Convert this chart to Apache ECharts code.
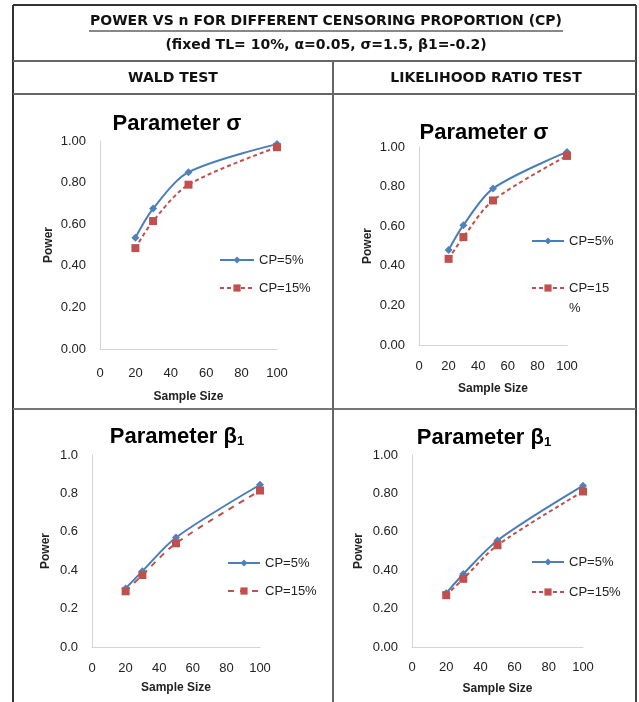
<!DOCTYPE html>
<html>
<head>
<meta charset="utf-8">
<script src="https://cdn.jsdelivr.net/npm/echarts@6/dist/echarts.min.js"></script>
<style>
  html, body { margin: 0; padding: 0; background: #fff; }
  #main { width: 639px; height: 702px; }
</style>
</head>
<body>
<div id="main"></div>
<script>
// data
var sampleSize = [20, 30, 50, 100];
var waldSigma5 = [0.535, 0.675, 0.85, 0.985];
var waldSigma15 = [0.485, 0.615, 0.79, 0.97];
var lrSigma5 = [0.48, 0.605, 0.79, 0.975];
var lrSigma15 = [0.435, 0.545, 0.73, 0.955];
var waldBeta5 = [0.305, 0.395, 0.57, 0.845];
var waldBeta15 = [0.29, 0.375, 0.54, 0.815];
var lrBeta5 = [0.28, 0.38, 0.555, 0.84];
var lrBeta15 = [0.27, 0.355, 0.53, 0.81];
var xTicks = [0, 20, 40, 60, 80, 100];
var yTicks = [0, 0.2, 0.4, 0.6, 0.8, 1.0];
var legendNames = ['CP=5%', 'CP=15%'];

var BLUE = '#4a7ebb';
var RED = '#c0504d';
var FONT = '"Liberation Sans", Arial, sans-serif';
var HEAD_FONT = '"DejaVu Sans", sans-serif';

// one panel per cell of the table
var panels = [
  { title: 'Parameter σ', tx: 177, ty: 125, grid: { left: 100, top: 141, width: 177, height: 208 },
    s5: waldSigma5, s15: waldSigma15, dec: 2, nameX: 45, nameY: 42, xm: 18, dash: [4, 3],
    leg: { left: 219, y5: 260, y15: 288, w: 34 } },
  { title: 'Parameter σ', tx: 484, ty: 134, grid: { left: 419, top: 147, width: 148, height: 198 },
    s5: lrSigma5, s15: lrSigma15, dec: 2, nameX: 45, nameY: 38, xm: 15, dash: [4, 3],
    leg: { left: 531, y5: 241, y15: 288, w: 32, wrap: true } },
  { title: 'Parameter β{sub|1}', tx: 177, ty: 438, grid: { left: 92, top: 455, width: 168, height: 192 },
    s5: waldBeta5, s15: waldBeta15, dec: 1, nameX: 40, nameY: 35, xm: 15, dash: [6, 6],
    leg: { left: 227, y5: 563, y15: 591, w: 32 } },
  { title: 'Parameter β{sub|1}', tx: 484, ty: 439, grid: { left: 412, top: 455, width: 171, height: 192 },
    s5: lrBeta5, s15: lrBeta15, dec: 2, nameX: 47, nameY: 36, xm: 14, dash: [4, 3],
    leg: { left: 531, y5: 562, y15: 592, w: 32 } }
];

var myChart = echarts.init(document.getElementById('main'));

var grids = [], xAxes = [], yAxes = [], series = [], titles = [], legends = [];
panels.forEach(function (p, i) {
  grids.push(p.grid);
  xAxes.push({
    type: 'value', gridIndex: i, min: xTicks[0], max: xTicks[xTicks.length - 1],
    interval: xTicks[1] - xTicks[0],
    axisLine: { show: true, lineStyle: { color: '#d4d4d4', width: 1 } },
    axisTick: { show: false }, splitLine: { show: false },
    axisLabel: { fontSize: 13, fontFamily: FONT, color: '#222', margin: p.xm },
    name: 'Sample Size', nameLocation: 'middle', nameGap: p.nameY,
    nameTextStyle: { fontSize: 12, fontWeight: 'bold', fontFamily: FONT, color: '#222' }
  });
  yAxes.push({
    type: 'value', gridIndex: i, min: yTicks[0], max: yTicks[yTicks.length - 1],
    interval: yTicks[1] - yTicks[0],
    axisLine: { show: true, lineStyle: { color: '#d4d4d4', width: 1 } },
    axisTick: { show: false }, splitLine: { show: false },
    axisLabel: { fontSize: 13, fontFamily: FONT, color: '#222', margin: 14,
      formatter: function (v) { return v.toFixed(p.dec); } },
    name: 'Power', nameLocation: 'middle', nameGap: p.nameX,
    nameTextStyle: { fontSize: 12, fontWeight: 'bold', fontFamily: FONT, color: '#222' }
  });
  var n5 = 'p' + i + '_5', n15 = 'p' + i + '_15';
  series.push({
    name: n5, type: 'line', xAxisIndex: i, yAxisIndex: i, smooth: 0.3,
    data: sampleSize.map(function (x, j) { return [x, p.s5[j]]; }),
    symbol: 'diamond', symbolSize: 8, color: BLUE,
    itemStyle: { color: '#4f81bd' },
    lineStyle: { color: BLUE, width: 2 }
  });
  series.push({
    name: n15, type: 'line', xAxisIndex: i, yAxisIndex: i, smooth: 0.3,
    data: sampleSize.map(function (x, j) { return [x, p.s15[j]]; }),
    symbol: 'rect', symbolSize: 8, color: RED,
    itemStyle: { color: RED },
    lineStyle: { color: RED, width: 2, type: p.dash }
  });
  titles.push({
    text: p.title, left: p.tx, top: p.ty - 12, textAlign: 'center', padding: 0,
    textStyle: { fontSize: 22, fontWeight: 'bold', fontFamily: FONT, color: '#000',
      rich: { sub: { fontSize: 13, fontWeight: 'bold', fontFamily: FONT, verticalAlign: 'bottom', padding: [6, 0, 0, 0] } } }
  });
  var legText = { fontSize: 13, fontFamily: FONT, color: '#222' };
  legends.push({
    data: [n5], formatter: legendNames[0], left: p.leg.left, top: p.leg.y5 - 6.5, padding: 0,
    itemWidth: p.leg.w, itemHeight: 9, itemGap: 4, textStyle: legText, selectedMode: false
  });
  // the wrapped entry: an empty first line keeps "CP=15" level with its icon
  legends.push(p.leg.wrap ? {
    data: [n15], formatter: ' \nCP=15\n%', left: p.leg.left, top: p.leg.y15 - 30, padding: 0,
    itemWidth: p.leg.w, itemHeight: 9, itemGap: 4, selectedMode: false,
    textStyle: { fontSize: 13, fontFamily: FONT, color: '#222', lineHeight: 20 }
  } : {
    data: [n15], formatter: legendNames[1], left: p.leg.left, top: p.leg.y15 - 6.5, padding: 0,
    itemWidth: p.leg.w, itemHeight: 9, itemGap: 4, textStyle: legText, selectedMode: false
  });
});

function hline(x1, x2, y, color, w) {
  return { type: 'line', silent: true, shape: { x1: x1, y1: y, x2: x2, y2: y }, style: { stroke: color, lineWidth: w } };
}
function vline(x, y1, y2, color, w) {
  return { type: 'line', silent: true, shape: { x1: x, y1: y1, x2: x, y2: y2 }, style: { stroke: color, lineWidth: w } };
}
function label(text, x, y, size) {
  return { type: 'text', silent: true, style: { text: text, x: x, y: y, align: 'center', verticalAlign: 'middle',
    font: 'bold ' + size + 'px ' + HEAD_FONT, fill: '#111' } };
}

var graphics = [
  hline(13, 636, 5, '#333', 2),
  vline(13, 5, 702, '#333', 2),
  vline(636, 5, 702, '#444', 2),
  hline(13, 636, 61, '#666', 2),
  hline(13, 636, 94, '#666', 2),
  hline(13, 636, 409, '#777', 2),
  vline(333, 61, 702, '#666', 2),
  label('POWER VS n FOR DIFFERENT CENSORING PROPORTION (CP)', 326, 21, 14),
  hline(89, 563, 31, '#111', 1),
  label('(fixed TL= 10%, α=0.05, σ=1.5, β1=-0.2)', 326, 45, 14),
  label('WALD TEST', 173, 78, 14),
  label('LIKELIHOOD RATIO TEST', 486, 78, 14)
];

var option = {
  backgroundColor: '#fff',
  animation: false,
  title: titles,
  legend: legends,
  grid: grids,
  xAxis: xAxes,
  yAxis: yAxes,
  series: series,
  graphic: graphics
};

myChart.setOption(option);
</script>
</body>
</html>
